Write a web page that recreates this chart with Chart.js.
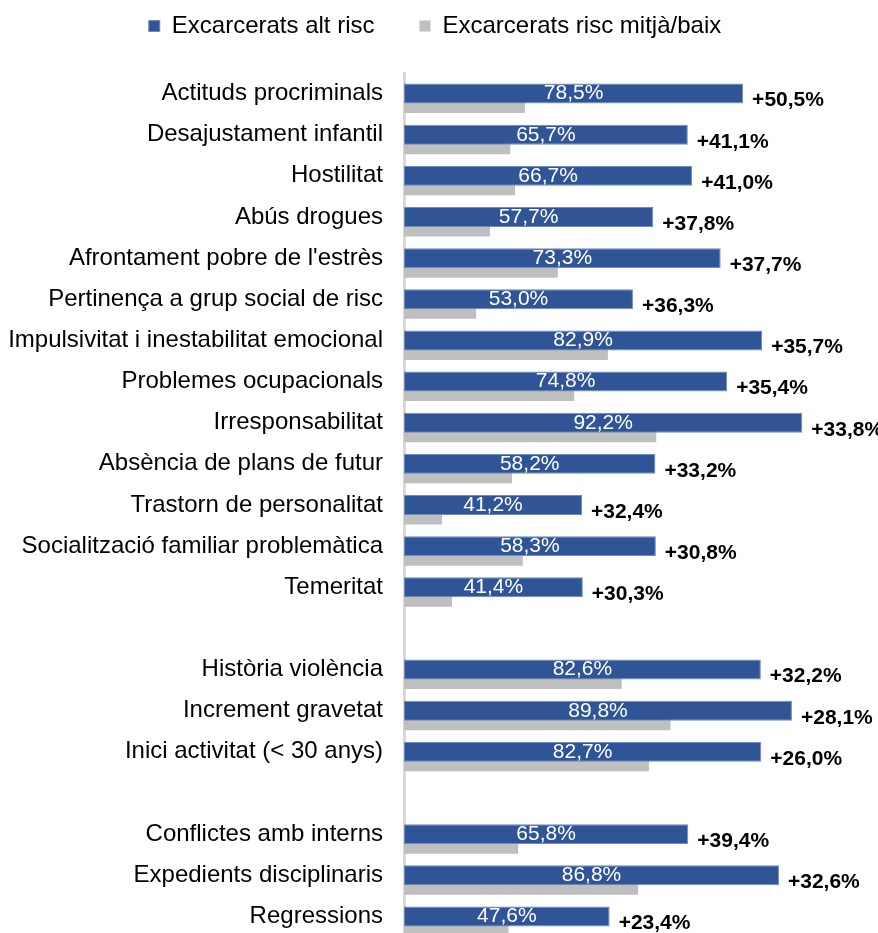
<!DOCTYPE html>
<html>
<head>
<meta charset="utf-8">
<script src="https://cdn.jsdelivr.net/npm/chart.js@4/dist/chart.umd.min.js"></script>
<style>
  html, body { margin: 0; padding: 0; background: #fff; overflow: hidden; }
</style>
</head>
<body>
<canvas id="riskChart" width="878" height="940"></canvas>
<script>
// empty strings are the gaps between the three groups
const categories = [
  "Actituds procriminals",
  "Desajustament infantil",
  "Hostilitat",
  "Abús drogues",
  "Afrontament pobre de l'estrès",
  "Pertinença a grup social de risc",
  "Impulsivitat i inestabilitat emocional",
  "Problemes ocupacionals",
  "Irresponsabilitat",
  "Absència de plans de futur",
  "Trastorn de personalitat",
  "Socialització familiar problemàtica",
  "Temeritat",
  "",
  "Història violència",
  "Increment gravetat",
  "Inici activitat (< 30 anys)",
  "",
  "Conflictes amb interns",
  "Expedients disciplinaris",
  "Regressions"
];

const highRisk = [78.5, 65.7, 66.7, 57.7, 73.3, 53.0, 82.9, 74.8, 92.2, 58.2, 41.2, 58.3, 41.4,
  null, 82.6, 89.8, 82.7, null, 65.8, 86.8, 47.6];

const lowRisk = [28.0, 24.6, 25.7, 19.9, 35.6, 16.7, 47.2, 39.4, 58.4, 25.0, 8.8, 27.5, 11.1,
  null, 50.4, 61.7, 56.7, null, 26.4, 54.2, 24.2];

const difference = [50.5, 41.1, 41.0, 37.8, 37.7, 36.3, 35.7, 35.4, 33.8, 33.2, 32.4, 30.8, 30.3,
  null, 32.2, 28.1, 26.0, null, 39.4, 32.6, 23.4];

const seriesNames = ["Excarcerats alt risc", "Excarcerats risc mitjà/baix"];

const BLUE = "#2F5597";
const GRAY = "#BFBFBF";
const FONT = '"Liberation Sans", Arial, sans-serif';

function pct(v) {
  return v.toFixed(1).replace(".", ",") + "%";
}

// white value inside the blue bar, bold difference just past its end
const barLabels = {
  id: "barLabels",
  afterDatasetsDraw(chart) {
    const ctx = chart.ctx;
    const meta = chart.getDatasetMeta(1);
    ctx.save();
    ctx.textBaseline = "middle";
    meta.data.forEach((bar, i) => {
      if (highRisk[i] == null) return;
      ctx.font = "21px " + FONT;
      ctx.fillStyle = "#fff";
      ctx.textAlign = "center";
      ctx.fillText(pct(highRisk[i]), (bar.base + bar.x) / 2, bar.y);

      ctx.font = "bold 21px " + FONT;
      ctx.fillStyle = "#000";
      ctx.textAlign = "left";
      ctx.fillText("+" + pct(difference[i]), bar.x + 9, bar.y + 7);
    });
    ctx.restore();
  }
};

// legend items need a wide gap between them, but the big padding
// also pushes the text down -> move the box while it draws
const legendSpacing = {
  id: "legendSpacing",
  beforeInit(chart) {
    const legend = chart.legend;
    const fit = legend.fit;
    legend.fit = function () {
      fit.call(this);
      this.height -= 6;
    };
    const draw = legend.draw;
    legend.draw = function () {
      this.top -= 31;
      this.left += 17;
      this.right += 17;
      draw.call(this);
      this.top += 31;
      this.left -= 17;
      this.right -= 17;
    };
  }
};

const ctx = document.getElementById("riskChart").getContext("2d");
new Chart(ctx, {
  type: "bar",
  data: {
    labels: categories,
    datasets: [
      {
        // empty slot so the blue bar sits on the row centre
        label: "",
        data: categories.map(() => null),
        backgroundColor: "rgba(0,0,0,0)"
      },
      {
        label: seriesNames[0],
        data: highRisk,
        backgroundColor: BLUE,
        borderColor: "#6D8AC2",
        borderWidth: 1,
        borderSkipped: false
      },
      {
        label: seriesNames[1],
        data: lowRisk,
        backgroundColor: GRAY
      }
    ]
  },
  options: {
    indexAxis: "y",
    responsive: false,
    animation: false,
    categoryPercentage: 0.693,
    barPercentage: 2.1,
    layout: { padding: { top: 0, right: 42, bottom: 3, left: 0 } },
    plugins: {
      tooltip: { enabled: false },
      legend: {
        position: "top",
        labels: {
          color: "#000",
          font: { family: FONT, size: 24 },
          boxWidth: 11,
          boxHeight: 11,
          padding: 45,
          filter: (item) => item.datasetIndex !== 0
        }
      }
    },
    scales: {
      x: {
        display: false,
        min: 0,
        max: 100
      },
      y: {
        grid: { display: false, drawTicks: false },
        border: { display: true, color: "#D9D9D9", width: 3 },
        ticks: {
          color: "#000",
          font: { family: FONT, size: 24 },
          padding: 21,
          autoSkip: false
        },
        afterFit(scale) {
          scale.width = 404;
          scale.paddingTop = 0;
          scale.paddingBottom = 0;
        }
      }
    }
  },
  plugins: [barLabels, legendSpacing]
});
</script>
</body>
</html>
